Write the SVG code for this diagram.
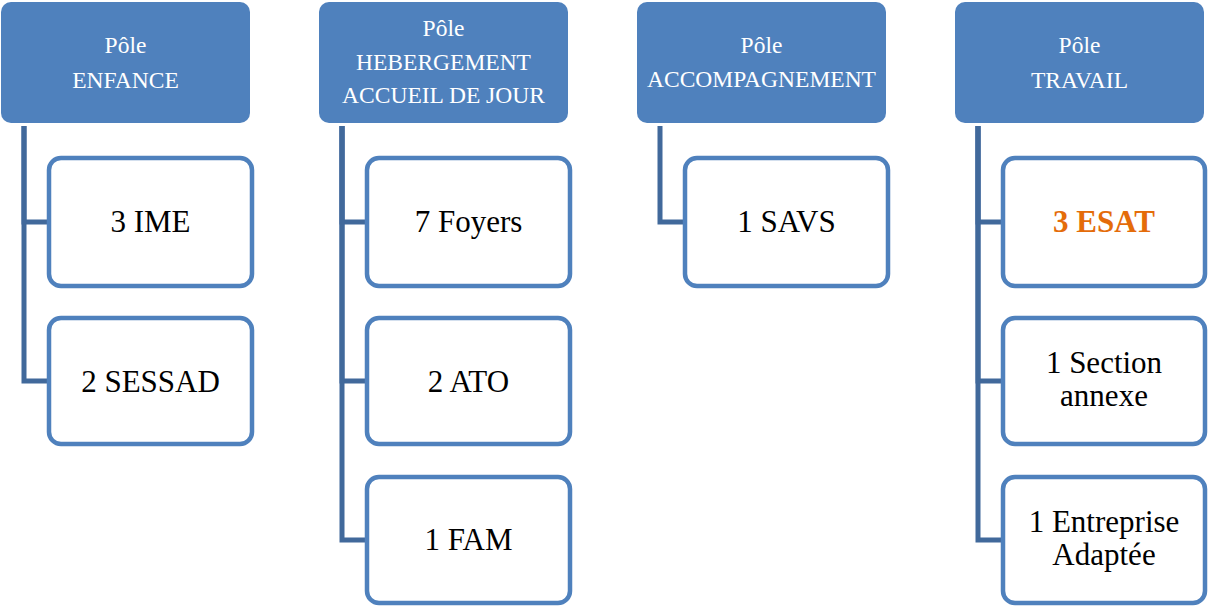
<svg xmlns="http://www.w3.org/2000/svg" width="1208" height="607" viewBox="0 0 1208 607">
<style>
.hdr{fill:#4F81BD;}
.box{fill:#FFFFFF;stroke:#4F81BD;stroke-width:4.5;}
.ht{font-size:23.5px;fill:#FFFFFF;text-anchor:middle;}
.bt{font-size:31px;fill:#000000;text-anchor:middle;}
.hl{fill:#E46C0A;font-weight:bold;}
.con{fill:none;stroke:#41699B;stroke-width:5;stroke-linejoin:miter;}
</style>
<rect width="1208" height="607" fill="#FFFFFF"/>
<g id="connectors">
<path class="con" d="M24,126 V222 H49"/>
<path class="con" d="M24,126 V381 H49"/>
<path class="con" d="M342,126 V222 H367"/>
<path class="con" d="M342,126 V381 H367"/>
<path class="con" d="M342,126 V540 H367"/>
<path class="con" d="M660,126 V222 H685"/>
<path class="con" d="M978,126 V222 H1003"/>
<path class="con" d="M978,126 V381 H1003"/>
<path class="con" d="M978,126 V540 H1003"/>
</g>
<g font-family="'Liberation Serif', 'Times New Roman', Times, serif">
<g id="pole-enfance">
<rect class="hdr" x="1" y="2" width="249" height="121" rx="10"/>
<text class="ht" x="125.5" y="53">Pôle</text>
<text class="ht" x="125.5" y="88">ENFANCE</text>
</g>
<g id="ime">
<rect class="box" x="49" y="158" width="203" height="128" rx="12"/>
<text class="bt" x="150.5" y="232">3 IME</text>
</g>
<g id="sessad">
<rect class="box" x="49" y="318" width="203" height="126" rx="12"/>
<text class="bt" x="150.5" y="392">2 SESSAD</text>
</g>
<g id="pole-hebergement">
<rect class="hdr" x="319" y="2" width="249" height="121" rx="10"/>
<text class="ht" x="443.5" y="36">Pôle</text>
<text class="ht" x="443.5" y="70">HEBERGEMENT</text>
<text class="ht" x="443.5" y="103">ACCUEIL DE JOUR</text>
</g>
<g id="foyers">
<rect class="box" x="367" y="158" width="203" height="128" rx="12"/>
<text class="bt" x="468.5" y="232">7 Foyers</text>
</g>
<g id="ato">
<rect class="box" x="367" y="318" width="203" height="126" rx="12"/>
<text class="bt" x="468.5" y="392">2 ATO</text>
</g>
<g id="fam">
<rect class="box" x="367" y="477" width="203" height="126" rx="12"/>
<text class="bt" x="468.5" y="550">1 FAM</text>
</g>
<g id="pole-accompagnement">
<rect class="hdr" x="637" y="2" width="249" height="121" rx="10"/>
<text class="ht" x="761.5" y="53">Pôle</text>
<text class="ht" x="761.5" y="87">ACCOMPAGNEMENT</text>
</g>
<g id="savs">
<rect class="box" x="685" y="158" width="203" height="128" rx="12"/>
<text class="bt" x="786.5" y="232">1 SAVS</text>
</g>
<g id="pole-travail">
<rect class="hdr" x="955" y="2" width="249" height="121" rx="10"/>
<text class="ht" x="1079.5" y="53">Pôle</text>
<text class="ht" x="1079.5" y="88">TRAVAIL</text>
</g>
<g id="esat">
<rect class="box" x="1003" y="158" width="202" height="128" rx="12"/>
<text class="bt hl" x="1104" y="232">3 ESAT</text>
</g>
<g id="section-annexe">
<rect class="box" x="1003" y="318" width="202" height="126" rx="12"/>
<text class="bt" x="1104" y="373">1 Section</text>
<text class="bt" x="1104" y="406">annexe</text>
</g>
<g id="entreprise-adaptee">
<rect class="box" x="1003" y="477" width="202" height="126" rx="12"/>
<text class="bt" x="1104" y="532">1 Entreprise</text>
<text class="bt" x="1104" y="565">Adaptée</text>
</g>
</g>
</svg>
